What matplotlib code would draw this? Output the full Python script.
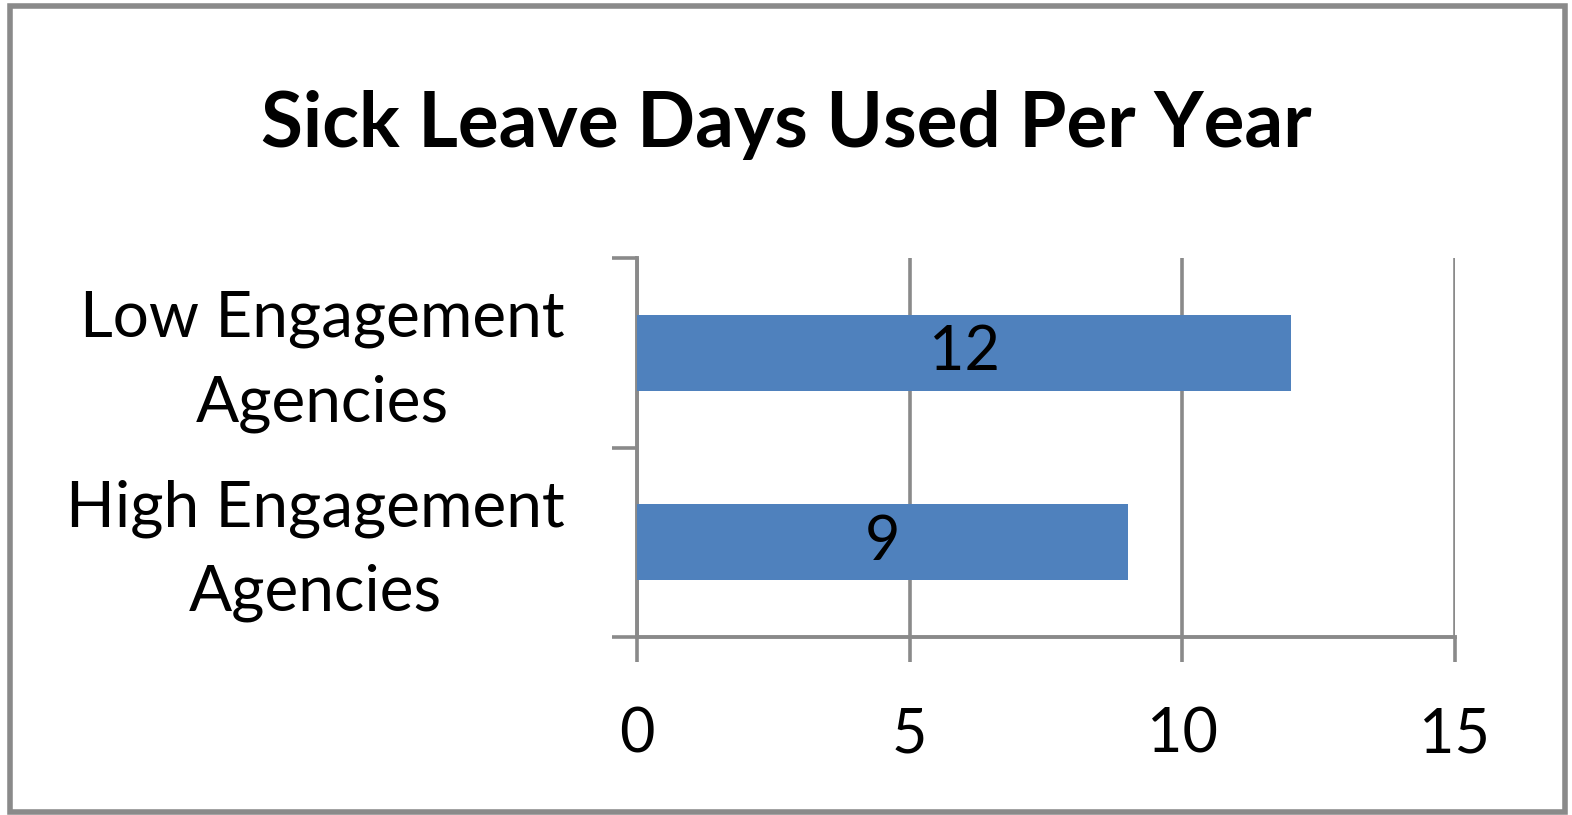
import matplotlib.pyplot as plt
from matplotlib.patches import Rectangle
from matplotlib.transforms import ScaledTranslation

# data
categories = ["High Engagement\nAgencies", "Low Engagement\nAgencies"]
days = [9, 12]
title = "Sick Leave Days Used Per Year"

plt.rcParams["font.family"] = ["Lato", "DejaVu Sans"]
grey = "#8a8a8a"

fig = plt.figure(figsize=(15.72, 8.15), dpi=100)
ax = fig.add_axes([637 / 1572, 1 - 637 / 815, (1455 - 637) / 1572, (637 - 258) / 815])

pos = list(range(len(categories)))
ax.barh(pos, days, height=0.4, color="#4f81bd", zorder=3)
for p, v in zip(pos, days):
    ax.text(v / 2, p, str(v), ha="center", va="center", fontsize=44, zorder=4)

ax.set_xlim(0, 15)
ax.set_ylim(-0.5, len(categories) - 0.5)
ax.set_xticks([0, 5, 10, 15])
ax.tick_params(axis="x", length=18, width=2.6, color=grey, pad=32, labelsize=44)
ax.grid(axis="x", color=grey, linewidth=2.6, zorder=0)

# category boundaries as major ticks, labels on minor ticks
ax.set_yticks([-0.5, 0.5, 1.5])
ax.set_yticklabels([])
ax.set_yticks(pos, minor=True)
ax.set_yticklabels(categories, minor=True, fontsize=46, multialignment="center", linespacing=1.55)
ax.tick_params(axis="y", which="major", length=18, width=2.6, color=grey)
ax.tick_params(axis="y", which="minor", length=0, pad=52)
# nudge the category labels up a little
shift = ScaledTranslation(0, 0.1, fig.dpi_scale_trans)
for lbl in ax.get_yticklabels(minor=True):
    lbl.set_transform(lbl.get_transform() + shift)

for s in ["top", "right"]:
    ax.spines[s].set_visible(False)
for s in ["left", "bottom"]:
    ax.spines[s].set_color(grey)
    ax.spines[s].set_linewidth(2.8)

fig.text(0.5, 1 - 125 / 815, title, ha="center", va="center", fontsize=55, fontweight="bold")

# outer chart border
fig.patches.append(Rectangle((10 / 1572, 3 / 815), 1555 / 1572, 806 / 815, transform=fig.transFigure,
                             fill=False, edgecolor=grey, linewidth=4))

fig.savefig("out.png", dpi=100)
